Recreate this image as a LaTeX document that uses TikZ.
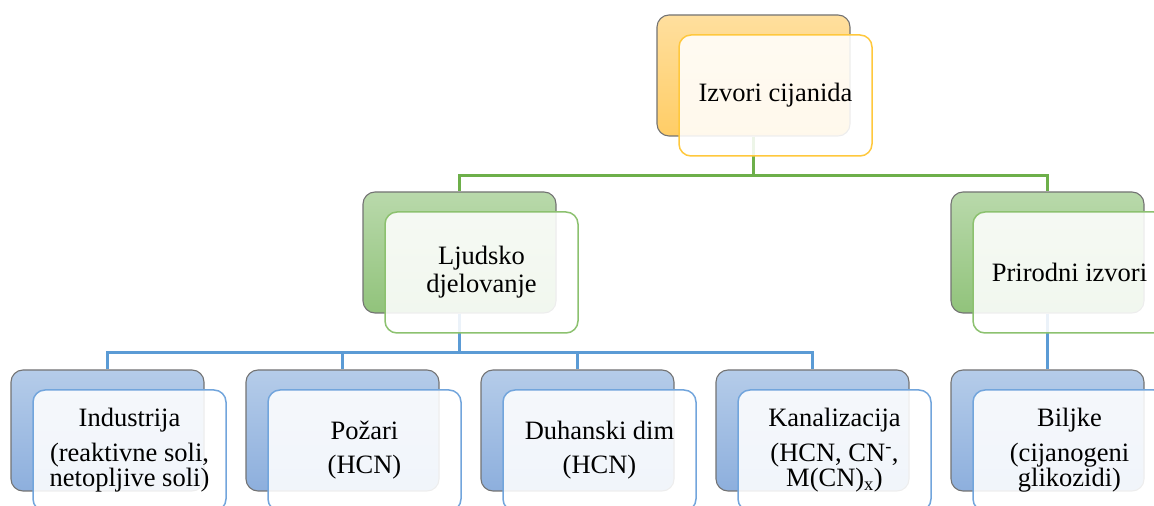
\documentclass[tikz,border=0pt]{standalone}
\usepackage{fontspec}
\setmainfont{Liberation Serif}
\usetikzlibrary{positioning}
\definecolor{orTop}{HTML}{FFDF9E}
\definecolor{orBot}{HTML}{FFCD66}
\definecolor{orLine}{HTML}{FFC83D}
\definecolor{grTop}{HTML}{B9D9AB}
\definecolor{grBot}{HTML}{91C37B}
\definecolor{grLine}{HTML}{8CC16F}
\definecolor{grConn}{HTML}{6DAF4A}
\definecolor{blTop}{HTML}{B5CCE9}
\definecolor{blBot}{HTML}{8DAFDD}
\definecolor{blLine}{HTML}{72A5DC}
\definecolor{blConn}{HTML}{5B9BD5}

\begin{document}
\begin{tikzpicture}[x=1pt,y=1pt,node distance=235pt,
  back/.style={rectangle,rounded corners=12pt,draw=black!55,line width=1.1pt,
    minimum width=193pt,minimum height=121pt,inner sep=0pt},
  front/.style={rectangle,rounded corners=12pt,fill=white,fill opacity=0.88,
    text opacity=1,line width=1.5pt,minimum width=193pt,minimum height=121pt,
    inner sep=0pt,align=center,font=\fontsize{26.5pt}{24pt}\selectfont,
    xshift=22pt,yshift=-20pt},
  orback/.style={back,top color=orTop,bottom color=orBot},
  grback/.style={back,top color=grTop,bottom color=grBot},
  blback/.style={back,top color=blTop,bottom color=blBot},
  orfront/.style={front,draw=orLine},
  grfront/.style={front,draw=grLine},
  blfront/.style={front,draw=blLine},
  grconn/.style={draw=grConn,line width=2.2pt},
  blconn/.style={draw=blConn,line width=2.2pt}]
  \useasboundingbox (0,0) rectangle (1154,506);

  \node[orback] (izvori) at (753.5,430.5) {};
  \node[blback] (ind) at (107.5,75.5) {};
  \node[blback, right of=ind] (poz) {};
  \node[blback, right of=poz] (duh) {};
  \node[blback, right of=duh] (kan) {};
  \node[blback, right of=kan] (bilj) {};
  \node[grback] (ljud) at (459.5,253.5) {};
  \node[grback, above of=bilj, node distance=178pt] (prir) {};

  \draw[grconn] (izvori.south) -- ++(0,-39) -| (ljud.north);
  \draw[grconn] (izvori.south) -- ++(0,-39) -| (prir.north);
  \foreach \n in {ind,poz,duh,kan}
    \draw[blconn] (ljud.south) -- ++(0,-39) -| (\n.north);
  \draw[blconn] (prir.south) -- (bilj.north);

  \node[orfront] (izvori-t) at (izvori) {Izvori cijanida};
  \node[grfront] (ljud-t) at (ljud) {Ljudsko\\[3pt] djelovanje};
  \node[grfront] (prir-t) at (prir) {Prirodni izvori};
  \node[blfront] (ind-t) at (ind) {Industrija\\[10pt] (reaktivne soli,\\ netopljive soli)};
  \node[blfront] (poz-t) at (poz) {Požari\\[10pt] (HCN)};
  \node[blfront] (duh-t) at (duh) {Duhanski dim\\[10pt] (HCN)};
  \node[blfront] (kan-t) at (kan) {Kanalizacija\\[10pt] (HCN, CN\textsuperscript{-},\\ M(CN)\textsubscript{x})};
  \node[blfront] (bilj-t) at (bilj) {Biljke\\[10pt] (cijanogeni\\ glikozidi)};
\end{tikzpicture}
\end{document}
